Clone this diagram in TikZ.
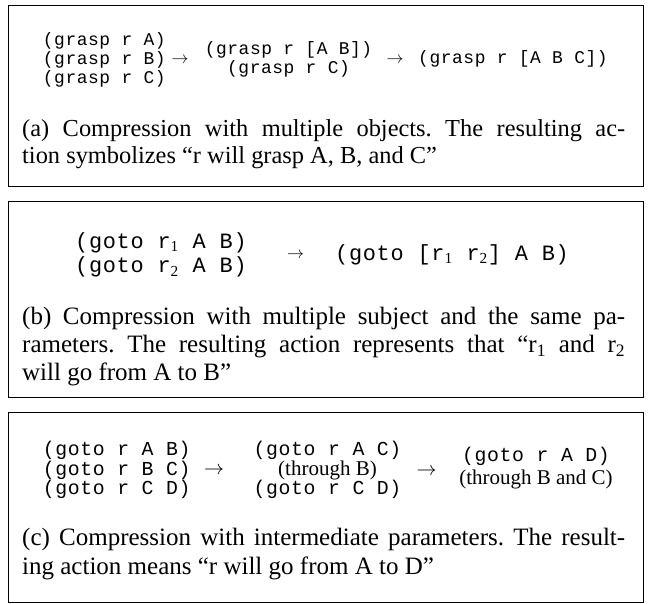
\documentclass[tikz,border=0pt]{standalone}
\usepackage{fontspec}
\setmainfont{Liberation Serif}
\newfontfamily\codefont[LetterSpace=3.2]{Liberation Mono}
\begin{document}
\begin{tikzpicture}[x=1pt,y=-1pt,
  frame/.style={draw=black,line width=1.1pt,inner sep=0pt,anchor=north west},
  codeA/.style={inner sep=0pt,anchor=west,align=left,font=\codefont\fontsize{17.9}{19.2}\selectfont},
  codeB/.style={inner sep=0pt,anchor=west,align=left,font=\codefont\fontsize{21.9}{24.5}\selectfont},
  codeC/.style={inner sep=0pt,anchor=west,align=left,font=\codefont\fontsize{19.8}{19.6}\selectfont},
  arr/.style={inner sep=0pt},
  captext/.style={inner sep=0pt,anchor=base west,font=\frenchspacing\fontsize{25}{28}\selectfont},
]
\useasboundingbox (0,0) rectangle (649,604);
% ---------- box (a)
\node[frame,minimum width=635pt,minimum height=181pt] (boxA) at (8,5) {};
\node[codeA] (a1) at (42.7,60) {(grasp r A)\\(grasp r B)\\(grasp r C)};
\node[arr] (ar1) at (180,60.5) {\scalebox{1.7}{$\rightarrow$}};
\node[codeA,align=center,anchor=center] (a2) at (288.5,59.5) {(grasp r [A B])\\(grasp r C)};
\node[arr] (ar2) at (395,60.5) {\scalebox{1.7}{$\rightarrow$}};
\node[codeA] (a3) at (418,58.5) {(grasp r [A B C])};
\node[captext,font=\frenchspacing\fontsize{24.4}{28}\selectfont] (capA1) at (22,137) {\makebox[603pt][s]{(a) Compression with multiple objects. The resulting ac-}};
\node[captext,font=\frenchspacing\fontsize{24.4}{28}\selectfont] (capA2) at (22,164) {tion symbolizes “r will grasp A, B, and C”};
% ---------- box (b)
\node[frame,minimum width=635pt,minimum height=196pt] (boxB) at (8,201) {};
\node[codeB] (b1) at (75,255) {(goto r\textsubscript{\rmfamily 1} A B)\\(goto r\textsubscript{\rmfamily 2} A B)};
\node[arr] (br1) at (295.5,255.5) {\scalebox{1.7}{$\rightarrow$}};
\node[codeB] (b2) at (335,255) {(goto [r\textsubscript{\rmfamily 1} r\textsubscript{\rmfamily 2}] A B)};
\node[captext] (capB1) at (22,325) {\makebox[603pt][s]{(b) Compression with multiple subject and the same pa-}};
\node[captext] (capB2) at (22,353) {\makebox[603pt][s]{rameters. The resulting action represents that “r\textsubscript{1} and r\textsubscript{2}}};
\node[captext] (capB3) at (22,381) {will go from A to B”};
% ---------- box (c)
\node[frame,minimum width=635pt,minimum height=190pt] (boxC) at (8,412) {};
\node[codeC] (c1) at (42.7,470) {(goto r A B)\\(goto r B C)\\(goto r C D)};
\node[arr] (cr1) at (214,470.5) {\scalebox{2}{$\rightarrow$}};
\node[codeC,align=center,anchor=center] (c2) at (327.5,470) {(goto r A C)\\{\rmfamily\fontsize{21}{19.6}\selectfont (through B)}\\(goto r C D)};
\node[arr] (cr2) at (426.5,471.5) {\scalebox{2}{$\rightarrow$}};
\node[codeC,align=center,anchor=center,font=\codefont\fontsize{19.8}{23}\selectfont] (c3) at (536,468.5) {(goto r A D)\\{\rmfamily\fontsize{21}{23}\selectfont (through B and C)}};
\node[captext] (capC1) at (22,546) {\makebox[603pt][s]{(c) Compression with intermediate parameters. The result-}};
\node[captext] (capC2) at (22,574) {ing action means “r will go from A to D”};
\end{tikzpicture}
\end{document}
